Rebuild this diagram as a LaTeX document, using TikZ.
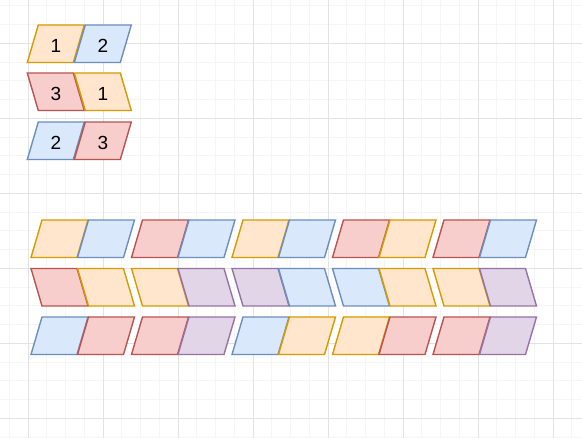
\documentclass[tikz,border=0pt]{standalone}
\usepackage{fontspec}
\setmainfont{Liberation Sans}
\usetikzlibrary{calc}
\definecolor{orFill}{HTML}{FFE6CC}
\definecolor{orLine}{HTML}{D79B00}
\definecolor{blFill}{HTML}{DAE8FC}
\definecolor{blLine}{HTML}{6C8EBF}
\definecolor{rdFill}{HTML}{F8CECC}
\definecolor{rdLine}{HTML}{B85450}
\definecolor{puFill}{HTML}{E1D5E7}
\definecolor{puLine}{HTML}{9673A6}
\tikzset{Para Style/.style={draw=#1Line, fill=#1Fill, line width=1.4pt, line join=miter},
	Minor Grid/.style={black!4, line width=0.8pt},
	Major Grid/.style={black!11, line width=0.8pt},
	Digit/.style={font=\fontsize{19}{19}\selectfont}}
% leaning right: bottom left corner x, top y
\newcommand{\paraR}[3]{\draw[Para Style=#1] (#2,#3+37.5) -- ++(11,-37.5) -- ++(46,0) -- ++(-11,37.5) -- cycle;}
% leaning left: top left corner x, top y
\newcommand{\paraL}[3]{\draw[Para Style=#1] (#2,#3) -- ++(46,0) -- ++(11,37.5) -- ++(-46,0) -- cycle;}

\begin{document}
\begin{tikzpicture}[x=1pt,y=-1pt]
	\useasboundingbox (0,0) rectangle (582,438);
	\fill[white] (0,0) rectangle (582,438);
	% grid
	\foreach \x in {0,...,30}{%
		\draw[Minor Grid] (9.25+18.75*\x,0) -- (9.25+18.75*\x,438);
	}
	\foreach \y in {0,...,23}{%
		\draw[Minor Grid] (0,5.8+18.75*\y) -- (582,5.8+18.75*\y);
	}
	\foreach \x in {0,...,7}{%
		\draw[Major Grid] (28+75*\x,0) -- (28+75*\x,438);
	}
	\foreach \y in {0,...,5}{%
		\draw[Major Grid] (0,43.3+75*\y) -- (582,43.3+75*\y);
	}
	
	% numbered pairs
	\paraR{or}{27.3}{25}
	\paraR{bl}{74.3}{25}
	\paraL{rd}{27.3}{73}
	\paraL{or}{74.3}{73}
	\paraR{bl}{27.3}{122}
	\paraR{rd}{74.3}{122}
	\node[Digit] (oneA) at (55.8,46) {1};
	\node[Digit] (twoA) at (102.8,46) {2};
	\node[Digit] (threeB) at (55.8,94) {3};
	\node[Digit] (oneB) at (102.8,94) {1};
	\node[Digit] (twoC) at (55.8,143) {2};
	\node[Digit] (threeC) at (102.8,143) {3};
	
	% rows of pairs
	\foreach \c [count=\i from 0] in {or,bl,rd,bl,or,bl,rd,or,rd,bl}{%
		\pgfmathsetmacro\xx{31+int(\i/2)*100.5+mod(\i,2)*46.5}
		\paraR{\c}{\xx}{220}
	}
	\foreach \c [count=\i from 0] in {rd,or,or,pu,pu,bl,bl,or,or,pu}{%
		\pgfmathsetmacro\xx{31+int(\i/2)*100.5+mod(\i,2)*46.5}
		\paraL{\c}{\xx}{268.5}
	}
	\foreach \c [count=\i from 0] in {bl,rd,rd,pu,bl,or,or,rd,rd,pu}{%
		\pgfmathsetmacro\xx{31+int(\i/2)*100.5+mod(\i,2)*46.5}
		\paraR{\c}{\xx}{317}
	}
\end{tikzpicture}
\end{document}
